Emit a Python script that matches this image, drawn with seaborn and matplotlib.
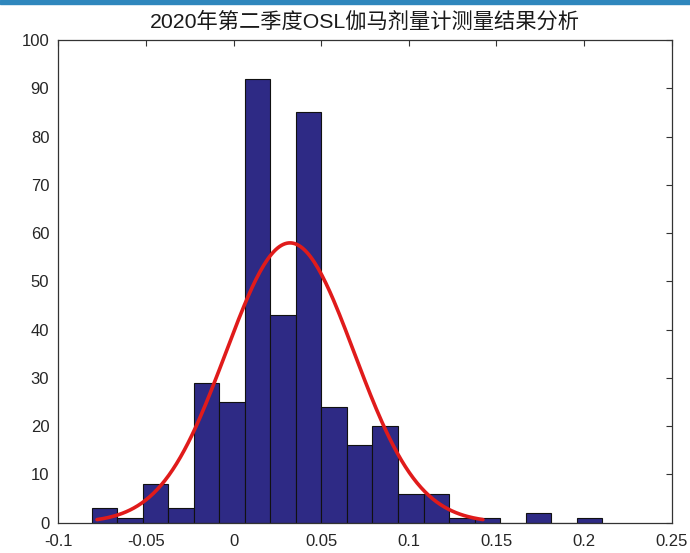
import numpy as np
import pandas as pd
import matplotlib
matplotlib.use("Agg")
import matplotlib.pyplot as plt
import seaborn as sns
from matplotlib.patches import Rectangle

# histogram: 20 equal bins
bin_start = -0.081
bin_width = 0.01457
counts = [3, 1, 8, 3, 29, 25, 92, 43, 85, 24, 16, 20, 6, 6, 1, 1, 0, 2, 0, 1]

# fitted normal curve (histfit style)
fit_mu = 0.0322
fit_sigma = 0.0367

x_ticks = [-0.1, -0.05, 0, 0.05, 0.1, 0.15, 0.2, 0.25]
x_tick_labels = ["-0.1", "-0.05", "0", "0.05", "0.1", "0.15", "0.2", "0.25"]
y_ticks = list(range(0, 101, 10))
title = "2020年第二季度OSL伽马剂量计测量结果分析"

sns.set_style("white")
plt.rcParams["font.family"] = ["Liberation Sans", "Noto Sans CJK SC", "DejaVu Sans"]

edges = [bin_start + bin_width * i for i in range(len(counts) + 1)]
centers = [(edges[i] + edges[i + 1]) / 2 for i in range(len(counts))]
df = pd.DataFrame({"x": centers, "n": counts})

xs = np.linspace(fit_mu - 3 * fit_sigma, fit_mu + 3 * fit_sigma, 200)
pdf = np.exp(-0.5 * ((xs - fit_mu) / fit_sigma) ** 2) / (fit_sigma * np.sqrt(2 * np.pi))
curve = pd.DataFrame({"x": xs, "y": pdf * sum(counts) * bin_width})

fig = plt.figure(figsize=(6.9, 5.53), dpi=100)
ax = fig.add_axes([0.0845, 0.0548, 0.889, 0.8729])

sns.histplot(data=df, x="x", weights="n", bins=edges, ax=ax,
             color="#2e2a85", edgecolor="#111111", linewidth=0.8, alpha=1)
sns.lineplot(data=curve, x="x", y="y", ax=ax, color="#e01b1b", linewidth=2.6)

ax.set_xlim(-0.1, 0.25)
ax.set_ylim(0, 100)
ax.set_xticks(x_ticks)
ax.set_xticklabels(x_tick_labels)
ax.set_yticks(y_ticks)
ax.set_xlabel("")
ax.set_ylabel("")
ax.tick_params(direction="in", length=4, width=0.8, colors="#333333",
               labelsize=12, top=True, right=True, labelcolor="#262626")
ax.tick_params(axis="x", pad=8)
ax.tick_params(axis="y", pad=6.5)
for sp in ax.spines.values():
    sp.set_color("#333333")
    sp.set_linewidth(0.9)
ax.set_title(title, fontsize=15.3, family=["Liberation Sans", "Noto Sans CJK SC"],
             color="#1a1a1a", pad=9)

# blue strip along the top edge of the screenshot
fig.patches.append(Rectangle((0, 0.993), 1, 0.007, transform=fig.transFigure,
                             color="#2f87bd", zorder=10))

fig.savefig("out.png", dpi=100)
